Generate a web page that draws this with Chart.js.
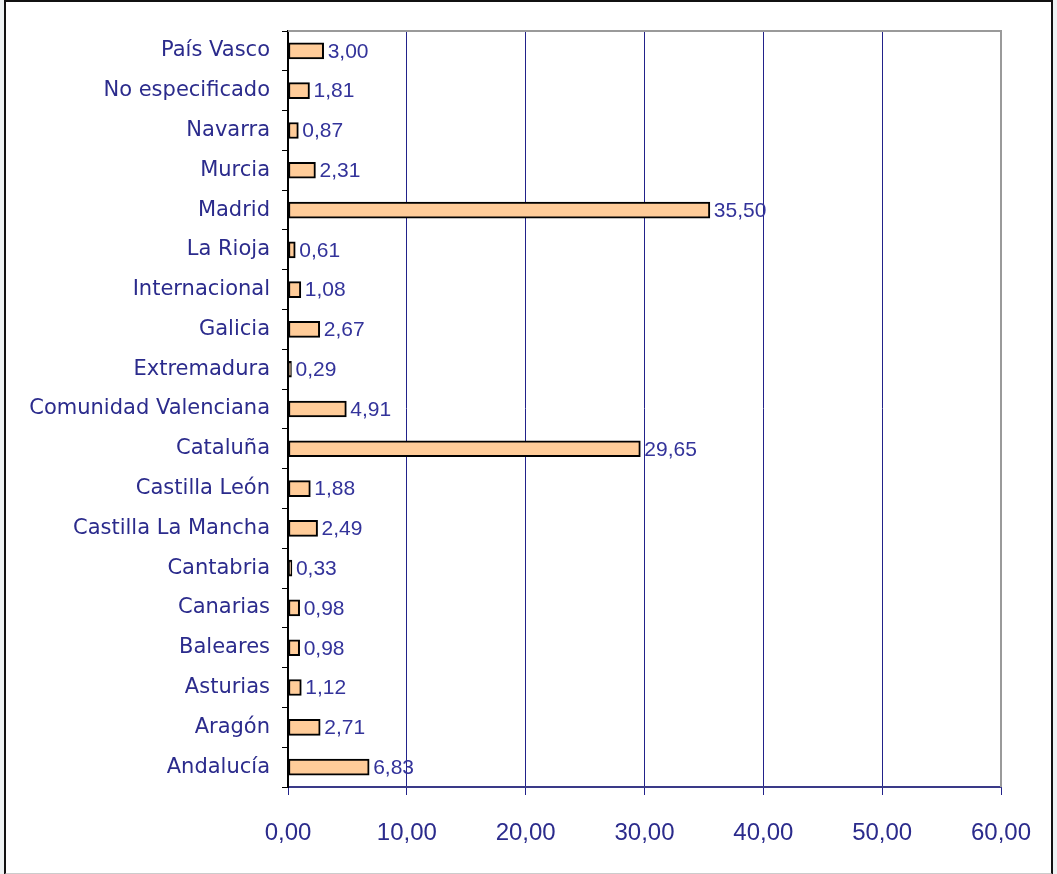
<!DOCTYPE html>
<html>
<head>
<meta charset="utf-8">
<script src="https://cdn.jsdelivr.net/npm/chart.js@4/dist/chart.umd.min.js"></script>
<style>
  html, body { margin: 0; padding: 0; background: #eef2f3; }
  #frame {
    position: absolute; left: 4px; top: 0; width: 1045px; height: 871px;
    background: #fff; border: 2px solid #111; border-bottom-color: #ccc;
  }
  #wrap { position: absolute; left: 0; top: 0; width: 1057px; height: 874px; }
</style>
</head>
<body>
<div id="frame"></div>
<div id="wrap"><canvas id="chart"></canvas></div>
<script>
const regions = ['País Vasco', 'No especificado', 'Navarra', 'Murcia', 'Madrid', 'La Rioja',
    'Internacional', 'Galicia', 'Extremadura', 'Comunidad Valenciana', 'Cataluña',
    'Castilla León', 'Castilla La Mancha', 'Cantabria', 'Canarias', 'Baleares',
    'Asturias', 'Aragón', 'Andalucía'];
const shares = [3.00, 1.81, 0.87, 2.31, 35.50, 0.61, 1.08, 2.67, 0.29, 4.91, 29.65,
    1.88, 2.49, 0.33, 0.98, 0.98, 1.12, 2.71, 6.83];
const xTicks = [0, 10, 20, 30, 40, 50, 60];

const navy = '#2b2b8c';
const fmt = v => Number(v).toFixed(2).replace('.', ',');

// grey frame line on top and right of the plot area
const plotFrame = {
    id: 'plotFrame',
    beforeDatasetsDraw(chart) {
        const { ctx, chartArea: a } = chart;
        ctx.save();
        ctx.strokeStyle = '#9a9a9a';
        ctx.lineWidth = 2;
        ctx.beginPath();
        ctx.moveTo(a.left, a.top);
        ctx.lineTo(a.right, a.top);
        ctx.lineTo(a.right, a.bottom);
        ctx.stroke();
        ctx.restore();
    }
};

// value next to each bar end
const valueLabels = {
    id: 'valueLabels',
    afterDatasetsDraw(chart) {
        const { ctx } = chart;
        const meta = chart.getDatasetMeta(0);
        ctx.save();
        ctx.font = '21px "Liberation Sans", Arial, sans-serif';
        ctx.fillStyle = '#33339a';
        ctx.textAlign = 'left';
        ctx.textBaseline = 'middle';
        meta.data.forEach((bar, i) => {
            ctx.fillText(fmt(shares[i]), bar.x + 4, bar.y + 1);
        });
        ctx.restore();
    }
};

new Chart(document.getElementById('chart'), {
    type: 'bar',
    data: {
        labels: regions,
        datasets: [{
            data: shares,
            backgroundColor: '#ffcc99',
            borderColor: '#000',
            borderWidth: 2,
            borderSkipped: false,
            barThickness: 16
        }]
    },
    options: {
        indexAxis: 'y',
        responsive: true,
        maintainAspectRatio: false,
        animation: false,
        layout: { padding: { top: 31, right: 56, left: 0, bottom: 0 } },
        plugins: { legend: { display: false }, tooltip: { enabled: false } },
        scales: {
            x: {
                min: 0,
                max: 60,
                afterBuildTicks: axis => { axis.ticks = xTicks.map(v => ({ value: v })); },
                afterFit: axis => { axis.height = 87; },
                grid: {
                    color: c => c.tick && c.tick.value === 60 ? '#9a9a9a' : '#22228a',
                    lineWidth: 1,
                    tickLength: 8,
                    tickColor: '#22228a'
                },
                border: { color: '#3a3a88', width: 2 },
                ticks: {
                    callback: v => fmt(v),
                    color: navy,
                    padding: 24,
                    maxRotation: 0,
                    font: { family: '"Liberation Sans", Arial, sans-serif', size: 24 }
                }
            },
            y: {
                afterFit: axis => { axis.width = 288; },
                grid: {
                    drawOnChartArea: false,
                    tickLength: 6,
                    color: '#000',
                    offset: true
                },
                border: { color: '#000', width: 2 },
                ticks: {
                    color: navy,
                    padding: 12,
                    autoSkip: false,
                    font: { family: '"DejaVu Sans", sans-serif', size: 21 }
                }
            }
        }
    },
    plugins: [plotFrame, valueLabels]
});
</script>
</body>
</html>
